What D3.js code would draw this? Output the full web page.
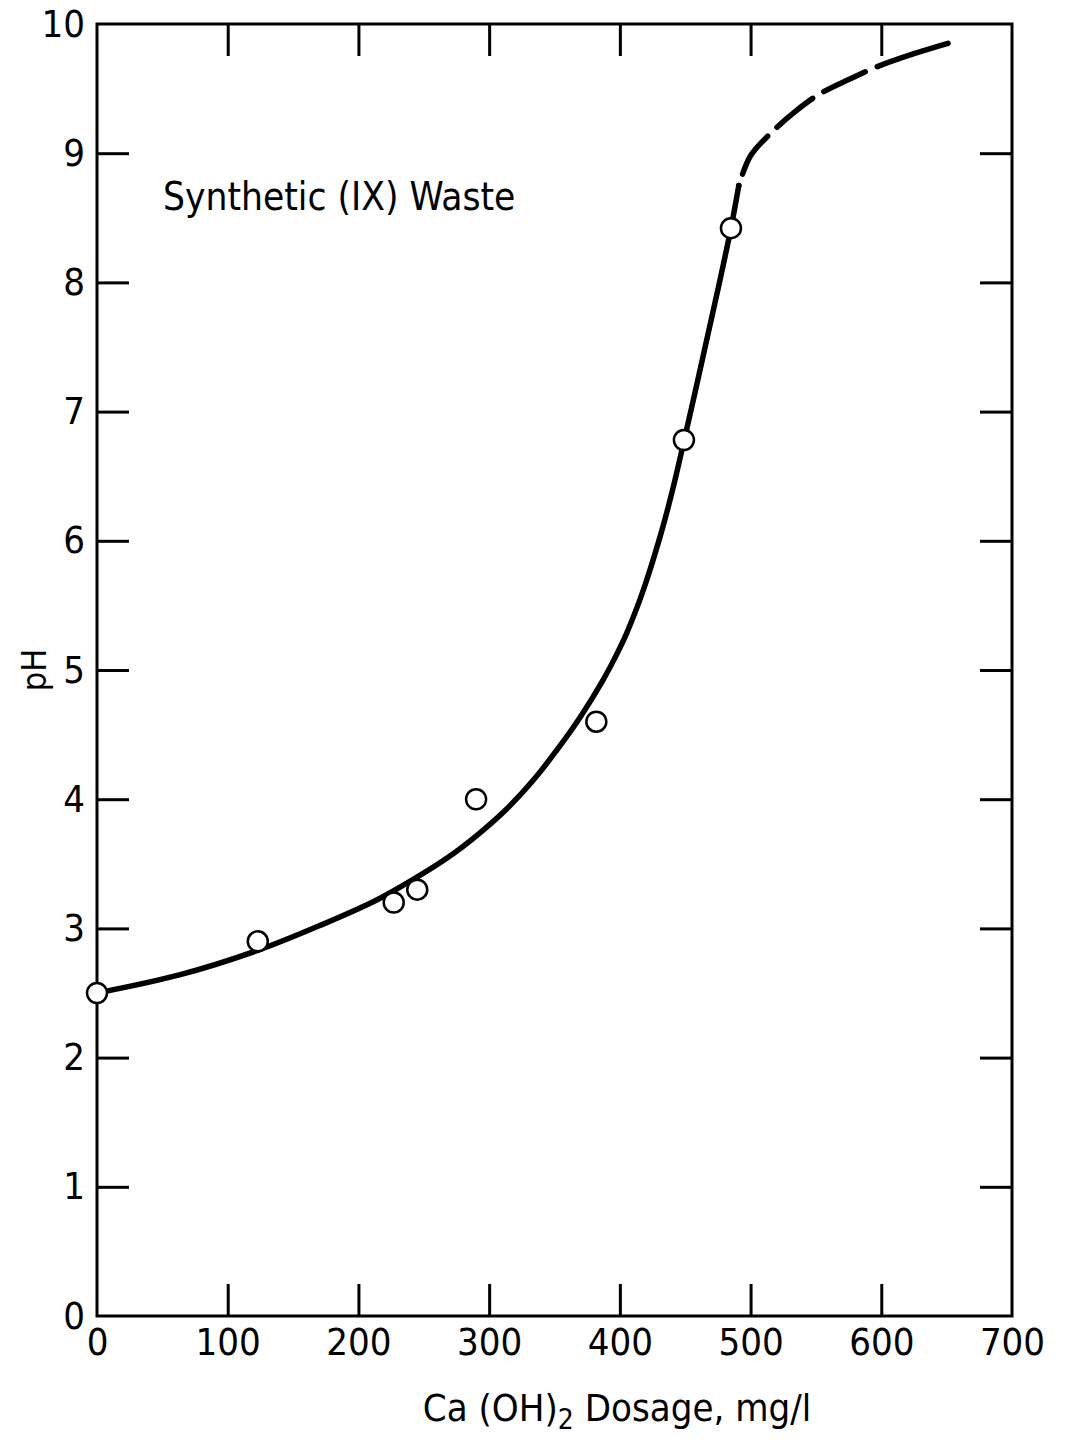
<!DOCTYPE html>
<html>
<head>
<meta charset="utf-8">
<script src="https://cdn.jsdelivr.net/npm/d3@7"></script>
<style>
  html, body { margin: 0; padding: 0; background: #fff; }
  svg { display: block; }
  .lbl { font-family: "Liberation Sans Narrow", "Arial Narrow", "DejaVu Sans Condensed", "Liberation Sans", sans-serif; fill: #000; }
</style>
</head>
<body>
<svg id="chart" width="1065" height="1441"></svg>
<script>
// Axis tick values
const xTickLabels = [0, 100, 200, 300, 400, 500, 600, 700];
const xTickMarks = [100, 200, 300, 400, 500, 600];
const yTickLabels = [0, 1, 2, 3, 4, 5, 6, 7, 8, 9, 10];
const yTickMarks = [1, 2, 3, 4, 5, 6, 7, 8, 9];

// Measured pH after lime addition
const dosage = [0, 123, 227, 245, 290, 382, 449, 485];
const pH = [2.5, 2.9, 3.2, 3.3, 4.0, 4.6, 6.78, 8.42];

// Fitted titration curve (solid part)
const fitDose = [0, 63, 123, 170, 214, 247, 270, 293, 313, 334, 354, 370, 387, 396, 405, 418, 431, 440, 449, 458, 467, 476, 485, 491];
const fitPH   = [2.5, 2.64, 2.83, 3.02, 3.22, 3.41, 3.56, 3.74, 3.92, 4.15, 4.41, 4.64, 4.92, 5.09, 5.28, 5.62, 6.04, 6.38, 6.77, 7.17, 7.58, 7.99, 8.42, 8.75];

// Extrapolated part of the curve (dashed)
const extDose = [491, 500, 517, 535, 553, 575, 597, 625, 651];
const extPH   = [8.75, 8.98, 9.17, 9.33, 9.46, 9.57, 9.67, 9.77, 9.85];

const svg = d3.select("#chart");
const x = d3.scaleLinear().domain([0, 700]).range([97, 1012]);
const y = d3.scaleLinear().domain([0, 10]).range([1316, 24]);

// Inward tick marks on all four sides
const tickLen = 32;
function styleTicks(g) {
  g.select(".domain").remove();
  g.selectAll(".tick line").attr("stroke", "#000").attr("stroke-width", 3);
  g.selectAll(".tick text").remove();
}
svg.append("g").attr("transform", `translate(0,${y(0)})`)
  .call(d3.axisBottom(x).tickValues(xTickMarks).tickSize(-tickLen)).call(styleTicks);
svg.append("g").attr("transform", `translate(0,${y(10)})`)
  .call(d3.axisTop(x).tickValues(xTickMarks).tickSize(-tickLen)).call(styleTicks);
svg.append("g").attr("transform", `translate(${x(0)},0)`)
  .call(d3.axisLeft(y).tickValues(yTickMarks).tickSize(-tickLen)).call(styleTicks);
svg.append("g").attr("transform", `translate(${x(700)},0)`)
  .call(d3.axisRight(y).tickValues(yTickMarks).tickSize(-tickLen)).call(styleTicks);

// Frame
svg.append("rect")
  .attr("x", x(0)).attr("y", y(10))
  .attr("width", x(700) - x(0)).attr("height", y(0) - y(10))
  .attr("fill", "none").attr("stroke", "#000").attr("stroke-width", 3);

// Tick labels
function styleLabels(g) {
  g.select(".domain").remove();
  g.selectAll(".tick line").remove();
  g.selectAll(".tick text").attr("class", "lbl").attr("font-size", 38).attr("fill", "#000");
}
svg.append("g").attr("transform", `translate(0,${y(0)})`)
  .call(d3.axisBottom(x).tickValues(xTickLabels).tickSize(0).tickPadding(12).tickFormat(d3.format("d")))
  .call(styleLabels);
svg.append("g").attr("transform", `translate(${x(0) - 12},0)`)
  .call(d3.axisLeft(y).tickValues(yTickLabels).tickSize(0).tickPadding(0).tickFormat(d3.format("d")))
  .call(styleLabels);

// Axis titles
svg.append("text").attr("class", "lbl")
  .attr("transform", `translate(46,${y(5)}) rotate(-90)`)
  .attr("text-anchor", "middle").attr("font-size", 34)
  .text("pH");

const xt = svg.append("text").attr("class", "lbl")
  .attr("x", 617).attr("y", 1421)
  .attr("text-anchor", "middle").attr("font-size", 38);
xt.append("tspan").text("Ca (OH)");
xt.append("tspan").attr("dy", 8).attr("font-size", 28).text("2");
xt.append("tspan").attr("dy", -8).text(" Dosage, mg/l");

// Annotation
svg.append("text").attr("class", "lbl")
  .attr("x", 163).attr("y", 210).attr("font-size", 38.5)
  .text("Synthetic (IX) Waste");

// Curves
const line = d3.line().x(d => x(d[0])).y(d => y(d[1])).curve(d3.curveCatmullRom.alpha(0.5));
svg.append("path")
  .datum(fitDose.map((d, i) => [d, fitPH[i]]))
  .attr("d", line)
  .attr("fill", "none").attr("stroke", "#000").attr("stroke-width", 5.5)
  .attr("stroke-linecap", "round");
svg.append("path")
  .datum(extDose.map((d, i) => [d, extPH[i]]))
  .attr("d", line)
  .attr("fill", "none").attr("stroke", "#000").attr("stroke-width", 5.5)
  .attr("stroke-linecap", "round")
  .attr("stroke-dasharray", "0 12 46 13 46 13 46 13 400");

// Observations
svg.append("g").selectAll("circle")
  .data(dosage.map((d, i) => [d, pH[i]]))
  .join("circle")
  .attr("cx", d => x(d[0])).attr("cy", d => y(d[1]))
  .attr("r", 10)
  .attr("fill", "#fff").attr("stroke", "#000").attr("stroke-width", 2.5);
</script>
</body>
</html>
